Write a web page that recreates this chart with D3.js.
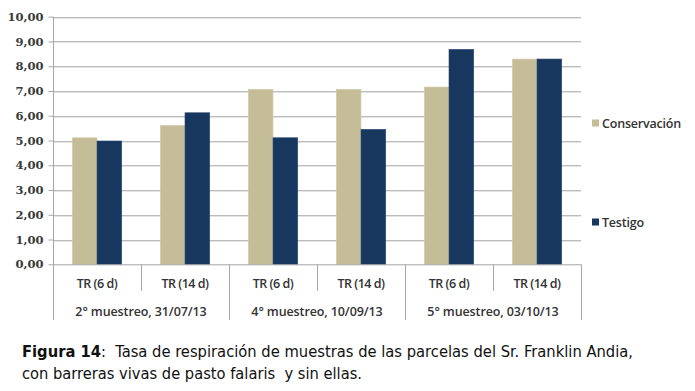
<!DOCTYPE html>
<html><head><meta charset="utf-8">
<script src="https://cdn.jsdelivr.net/npm/d3@7"></script>
<style>body{margin:0;background:#fff}svg{display:block}</style>
</head><body>
<script>
const subcats = ["TR (6 d)","TR (14 d)","TR (6 d)","TR (14 d)","TR (6 d)","TR (14 d)"];
const groups = ["2° muestreo, 31/07/13","4° muestreo, 10/09/13","5° muestreo, 03/10/13"];
const seriesNames = ["Conservación","Testigo"];
const conservacion = [5.11, 5.61, 7.07, 7.07, 7.16, 8.29];
const testigo = [4.98, 6.12, 5.11, 5.45, 8.68, 8.29];
const yTicks = [0,1,2,3,4,5,6,7,8,9,10];
const colors = ["#c4bd97","#17375e"];

(function(){
const W=695,H=391;
const svg=d3.select("body").append("svg").attr("width",W).attr("height",H);
const mLeft=53,mRight=581,mTop=16.7,mBottom=264.3;
const x=d3.scaleBand().domain(d3.range(6)).range([mLeft,mRight]).paddingInner(0).paddingOuter(0);
const xs=d3.scaleBand().domain(seriesNames).range([0,x.bandwidth()]).paddingInner(0).paddingOuter(0.78);
const y=d3.scaleLinear().domain([0,10]).range([mBottom,mTop]);

// gridlines
const g=svg.append("g");
g.selectAll("line.grid").data(yTicks.slice(1)).join("line")
  .attr("x1",mLeft).attr("x2",mRight).attr("y1",d=>Math.round(y(d))+0.5).attr("y2",d=>Math.round(y(d))+0.5)
  .attr("stroke","#bcbcbc").attr("stroke-width",1.2);
g.selectAll("line.grid2").data(yTicks.slice(1)).join("line")
  .attr("x1",mLeft).attr("x2",mRight).attr("y1",d=>Math.round(y(d))+1.5).attr("y2",d=>Math.round(y(d))+1.5)
  .attr("stroke","#e4e4e4").attr("stroke-width",1);

// bars
const data=[conservacion,testigo];
data.forEach((vals,si)=>{
  svg.append("g").selectAll("rect").data(vals).join("rect")
    .attr("x",(d,i)=>x(i)+xs(seriesNames[si]))
    .attr("width",xs.bandwidth())
    .attr("y",d=>y(d)).attr("height",d=>y(0)-y(d))
    .attr("fill",colors[si]).attr("stroke",si? "#2a4a72":"#d4cfae").attr("stroke-width",0.6);
});

// y axis
const yAxis=d3.axisLeft(y).tickValues(yTicks).tickSize(5).tickFormat(d=>d3.format(".2f")(d).replace(".",","));
const ya=svg.append("g").attr("transform",`translate(${mLeft+0.5},0)`).call(yAxis);
ya.select(".domain").remove();
ya.selectAll(".tick line").attr("stroke","#a6a6a6");
ya.selectAll(".tick text").attr("font-family","'DejaVu Serif', serif").attr("font-size","11.5px").attr("font-weight","bold").attr("fill","#3a3a3a").attr("x",-10);
svg.append("line").attr("x1",mLeft+0.5).attr("x2",mLeft+0.5).attr("y1",mTop).attr("y2",320).attr("stroke","#a6a6a6");
svg.append("line").attr("x1",mLeft).attr("x2",mRight).attr("y1",mBottom+0.5).attr("y2",mBottom+0.5).attr("stroke","#a6a6a6");
// separators
const sep=d3.range(1,7);
svg.selectAll("line.sep").data(sep).join("line")
  .attr("x1",i=>Math.round(i<6?x(i):mRight)+0.5).attr("x2",i=>Math.round(i<6?x(i):mRight)+0.5)
  .attr("y1",mBottom).attr("y2",i=>i%2===0?320:291)
  .attr("stroke","#a6a6a6");

const fontX="'Open Sans', sans-serif";
svg.selectAll("text.sub").data(subcats).join("text")
  .attr("x",(d,i)=>x(i)+x.bandwidth()/2).attr("y",287.5)
  .attr("text-anchor","middle").attr("font-family",fontX).attr("font-size","12.5px").attr("font-weight","600")
  .attr("fill","#333").attr("letter-spacing","-0.5px").text(d=>d);
svg.selectAll("text.grp").data(groups).join("text")
  .attr("x",(d,i)=>x(i*2)+x.bandwidth()).attr("y",315.5)
  .attr("text-anchor","middle").attr("font-family",fontX).attr("font-size","12.5px").attr("font-weight","600")
  .attr("fill","#333").attr("letter-spacing","-0.1px").text(d=>d);

// legend
const legY=[123,222];
seriesNames.forEach((n,i)=>{
  svg.append("rect").attr("x",592).attr("y",legY[i]-3.5).attr("width",7).attr("height",7).attr("fill",colors[i]);
  svg.append("text").attr("x",602).attr("y",legY[i]+4.5).attr("font-family",fontX).attr("font-size","12.5px").attr("font-weight","600")
    .attr("fill","#333").attr("letter-spacing","-0.2px").text(n);
});

// caption
const capFont="'DejaVu Sans Condensed','DejaVu Sans',sans-serif";
const t1=svg.append("text").attr("x",22).attr("y",357).attr("font-family",capFont).attr("font-size","15px").attr("fill","#111")
  .attr("textLength",611).attr("lengthAdjust","spacingAndGlyphs").style("white-space","pre");
t1.append("tspan").attr("font-weight","bold").text("Figura 14");
t1.append("tspan").text(":  Tasa de respiración de muestras de las parcelas del Sr. Franklin Andia,");
svg.append("text").attr("x",22).attr("y",379).attr("font-family",capFont).attr("font-size","15px").attr("fill","#111")
  .attr("textLength",340).attr("lengthAdjust","spacingAndGlyphs").style("white-space","pre")
  .text("con barreras vivas de pasto falaris  y sin ellas.");
})();
</script>
</body></html>
